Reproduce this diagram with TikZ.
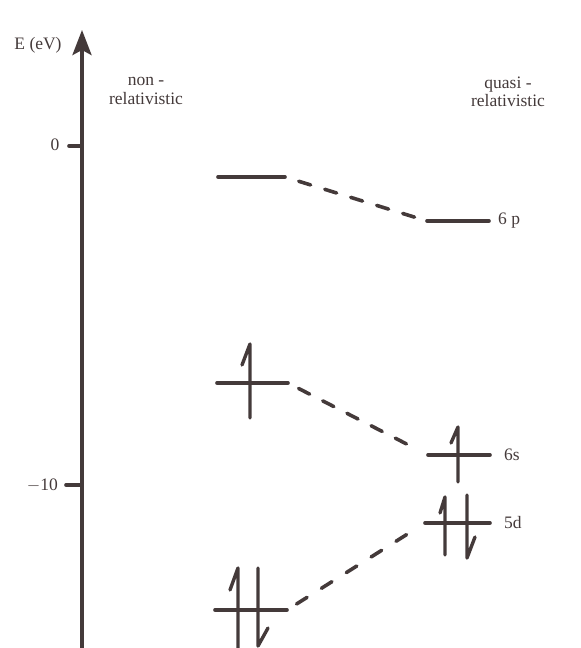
\documentclass[tikz,border=0pt]{standalone}
\usepackage{fontspec}
\setmainfont{Liberation Serif}
\usetikzlibrary{arrows.meta}
\definecolor{ink}{RGB}{68,58,58}
\tikzset{
  lvl/.style={line width=3.6pt, line cap=round},
  spin/.style={line width=3.4pt, line cap=round, line join=round},
  conn/.style={line width=3.6pt, line cap=round, dash pattern=on 12.4pt off 14.8pt},
  lbl/.style={inner sep=0pt, font=\fontsize{17.5}{19.5}\selectfont, text=ink},
}
\begin{document}
\begin{tikzpicture}[x=1pt,y=-1pt,draw=ink,color=ink]
\useasboundingbox (0,0) rectangle (581,648);
% axis
\coordinate (axbot) at (82,650);
\coordinate (axtop) at (82,30);
\draw[line width=3.6pt,-{Stealth[length=25pt,width=19pt,inset=5pt]}] (axbot) -- (axtop);
\coordinate (t0) at (82,146);
\coordinate (t10) at (82,485);
\draw[lvl] (t0) -- ++(-13,0);
\draw[lvl] (t10) -- ++(-16,0);
\node[lbl] (l0) at (55,145) {0};
\node[lbl,anchor=east] (l10) at (58,485) {$-$10};
\node[lbl] (ylab) at (38,45) {E (eV)};
\node[lbl,align=center] (nonrel) at (146,91) {non -\\[-1pt]relativistic};
\node[lbl,align=center] (qrel) at (508,92) {quasi -\\[-1pt]relativistic};
% 6p levels
\coordinate (pNa) at (218,177); \coordinate (pNb) at (285,177);
\coordinate (pRa) at (427,221); \coordinate (pRb) at (489,221);
\draw[lvl] (pNa) -- (pNb);
\draw[lvl] (pRa) -- (pRb);
\node[lbl,anchor=west] (l6p) at (498,221) {6 p};
\draw[conn, shorten <=14.4pt, shorten >=12pt] (pNb) -- (pRa);
% 6s levels
\coordinate (sNa) at (217,383); \coordinate (sNb) at (288,383);
\coordinate (sRa) at (428,455); \coordinate (sRb) at (490,455);
\draw[lvl] (sNa) -- (sNb);
\draw[lvl] (sRa) -- (sRb);
\draw[spin] (242,365) -- (250,344) -- (250,418);
\draw[spin] (451,443) -- (458,427) -- (458,482);
\node[lbl,anchor=west] (l6s) at (504,455) {6s};
\draw[conn, shorten <=11.9pt, shorten >=23.5pt] (sNb) -- (sRa);
% 5d levels
\coordinate (dNa) at (215,610); \coordinate (dNb) at (287,610);
\coordinate (dRa) at (425,523); \coordinate (dRb) at (490,523);
\draw[lvl] (dNa) -- (dNb);
\draw[lvl] (dRa) -- (dRb);
\draw[spin] (440,513) -- (445,497) -- (445,555);
\draw[spin] (467,495) -- (467,558) -- (475,537);
\draw[spin] (230,590) -- (238,568) -- (238,652);
\draw[spin] (258,568) -- (258,646) -- (268,628);
\node[lbl,anchor=west] (l5d) at (504,523) {5d};
\draw[conn, dash pattern=on 12.4pt off 17pt, shorten <=11.3pt, shorten >=21pt] (dNb) -- (dRa);
\end{tikzpicture}
\end{document}
